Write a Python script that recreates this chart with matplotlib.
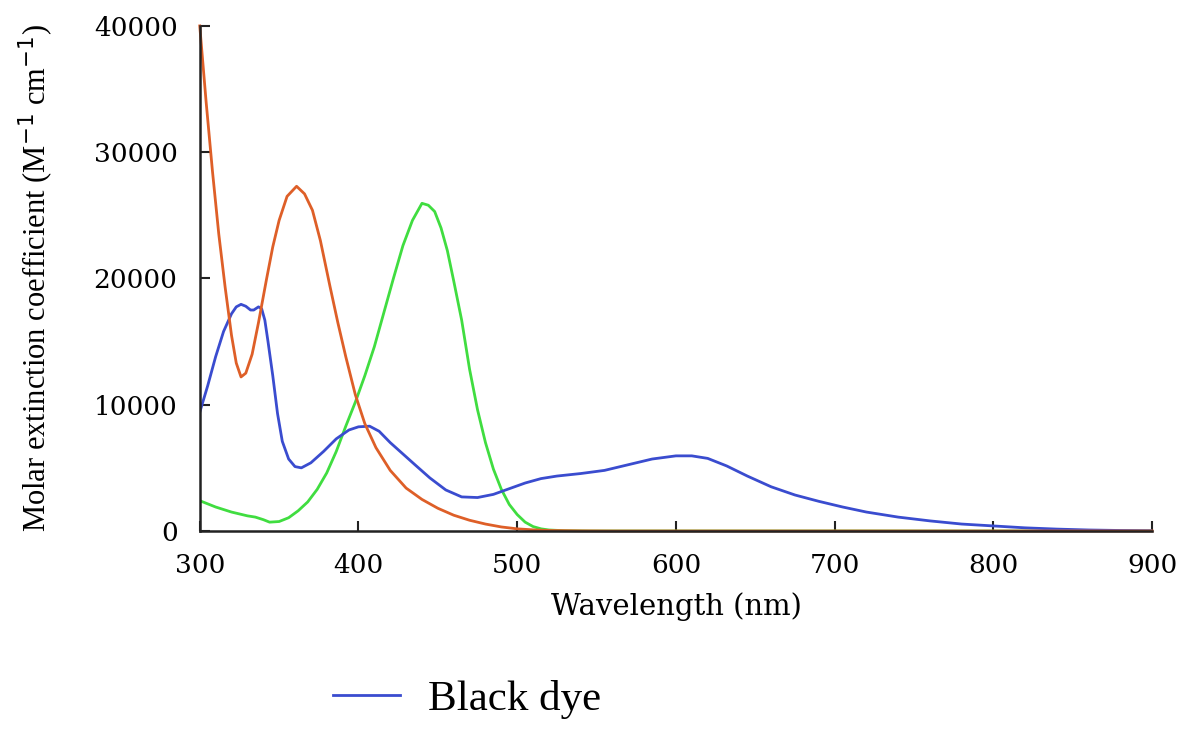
import matplotlib
matplotlib.use("Agg")
import matplotlib.pyplot as plt

# data
blue_x = [300, 305, 310, 315, 320, 323, 326, 329, 332, 334, 337, 339, 341, 343, 346, 349, 352,
          356, 360, 364, 370, 378, 386, 394, 400, 407, 413, 420, 428, 436, 445, 455, 465, 475,
          485, 495, 505, 515, 525, 540, 555, 570, 585, 600, 610, 620, 632, 645, 660, 675, 690,
          705, 720, 740, 760, 780, 800, 820, 840, 860, 880, 900]
blue_y = [9400, 11500, 13800, 15800, 17200, 17750, 17950, 17800, 17500, 17500, 17750, 17600,
          16700, 15000, 12300, 9300, 7100, 5700, 5100, 5000, 5400, 6300, 7300, 8000, 8250, 8300,
          7900, 7000, 6100, 5200, 4200, 3250, 2700, 2650, 2900, 3350, 3800, 4150, 4350, 4550,
          4800, 5250, 5700, 5950, 5950, 5750, 5150, 4350, 3500, 2850, 2350, 1900, 1500, 1100,
          800, 550, 400, 250, 150, 80, 40, 20]

orange_x = [300, 304, 308, 312, 316, 320, 323, 326, 329, 333, 337, 342, 346, 350, 355, 361,
            366, 371, 376, 382, 387, 392, 398, 404, 411, 420, 430, 440, 450, 460, 470, 480,
            490, 500, 510, 520, 540, 560, 900]
orange_y = [40000, 34000, 28500, 23500, 19300, 15500, 13300, 12200, 12500, 14000, 16500, 19900,
            22500, 24600, 26500, 27300, 26700, 25400, 23000, 19400, 16500, 13800, 10800, 8500,
            6600, 4800, 3400, 2500, 1800, 1250, 850, 550, 320, 170, 90, 40, 10, 0, 0]

green_x = [300, 305, 310, 315, 320, 325, 330, 335, 340, 344, 350, 356, 362, 368, 374, 380, 386,
           392, 398, 404, 410, 416, 422, 428, 434, 440, 444, 448, 452, 456, 460, 465, 470, 475,
           480, 485, 490, 495, 500, 505, 510, 515, 520, 530, 545, 900]
green_y = [2400, 2150, 1900, 1700, 1500, 1350, 1200, 1100, 900, 700, 750, 1050, 1600, 2300,
           3300, 4600, 6300, 8300, 10200, 12300, 14600, 17300, 20000, 22600, 24600, 25950,
           25800, 25300, 24000, 22200, 19800, 16700, 12800, 9600, 7000, 4900, 3300, 2100, 1300,
           700, 350, 170, 80, 20, 0, 0]

x_ticks = [300, 400, 500, 600, 700, 800, 900]
y_ticks = [0, 10000, 20000, 30000, 40000]

fig = plt.figure(figsize=(11.89, 7.32), dpi=100)
ax = fig.add_axes([0.168, 0.2746, 0.801, 0.69])

ax.plot(green_x, green_y, color="#40dd40", lw=2)
l_blue, = ax.plot(blue_x, blue_y, color="#3a4ccf", lw=2)
ax.plot(orange_x, orange_y, color="#de5f28", lw=2, clip_on=False)

ax.set_xlim(300, 900)
ax.set_ylim(0, 40000)
ax.set_xticks(x_ticks)
ax.set_yticks(y_ticks)
ax.set_xticklabels([str(v) for v in x_ticks], family="DejaVu Serif", fontsize=19)
ax.set_yticklabels([str(v) for v in y_ticks], family="DejaVu Serif", fontsize=19)
ax.tick_params(direction="in", length=7, width=1.5, color="#222222")
ax.tick_params(axis="x", pad=16)
ax.tick_params(axis="y", pad=16)

for s in ["top", "right"]:
    ax.spines[s].set_visible(False)
for s in ["left", "bottom"]:
    ax.spines[s].set_linewidth(1.8)
    ax.spines[s].set_color("#222222")

ax.set_xlabel("Wavelength (nm)", family="DejaVu Serif", fontsize=21, labelpad=10)
ax.set_ylabel("Molar extinction coefficient (M$^{-1}$ cm$^{-1}$)",
              family="Liberation Serif", fontsize=22, labelpad=27)

fig.legend([l_blue], ["Black dye"], loc="center left", bbox_to_anchor=(0.28, 0.044),
           frameon=False, prop={"family": "Liberation Serif", "size": 31},
           handlelength=1.55, handletextpad=0.65, borderpad=0, borderaxespad=0)

fig.savefig("out.png", dpi=100)
